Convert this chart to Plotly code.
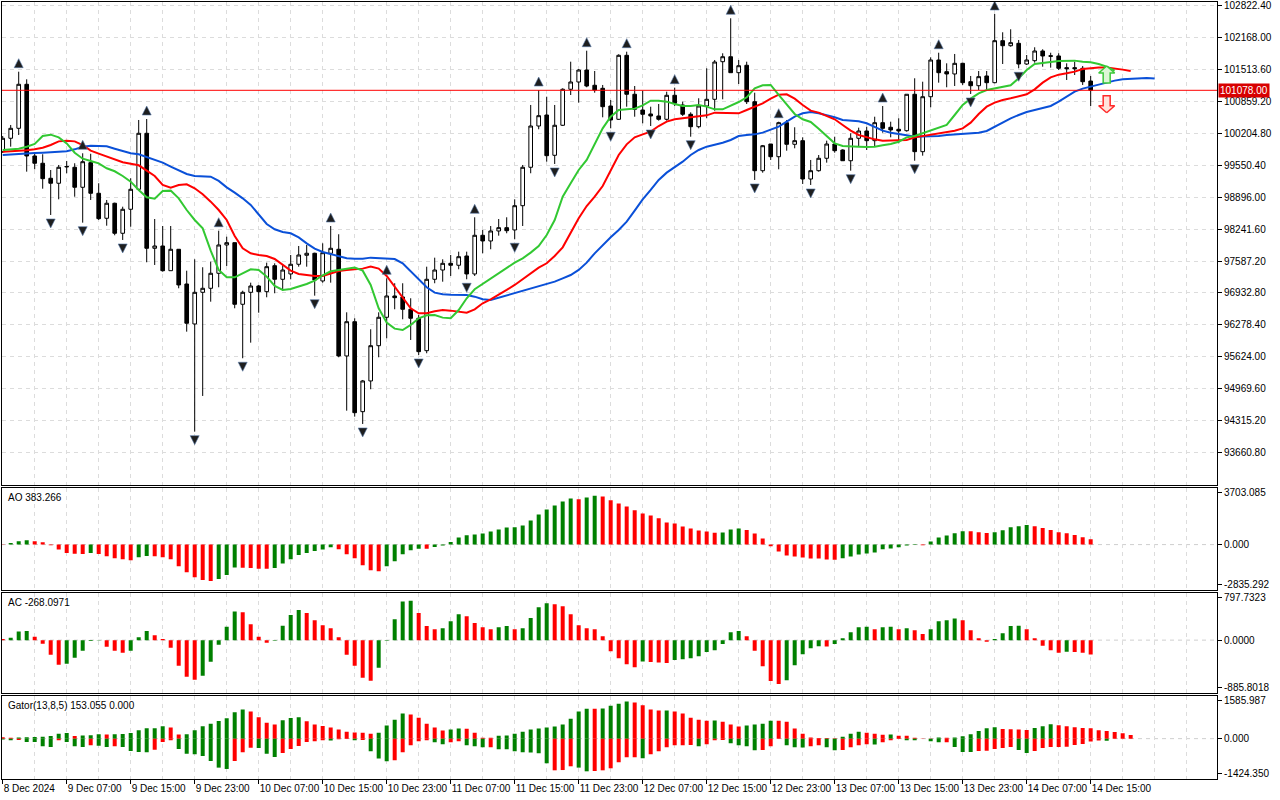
import plotly.graph_objects as go

# ---------------- data (hourly bars, index 0 = first visible bar) ----------------
opens = [99823, 100097, 100301, 101201, 99735, 99586, 99279, 99177, 99510, 99504,
         99095, 99598, 98972, 98461, 98768, 98154, 98645, 99054, 100199, 97847,
         97894, 97389, 97827, 97117, 96299, 96947, 97029, 97336, 97915, 97962,
         96702, 96947, 97076, 96960, 97491, 97213, 97322, 97520, 97704, 97745,
         97179, 97745, 97827, 95645, 96346, 94506, 95134, 95855, 96436, 96872,
         96851, 96600, 96416, 95753, 97213, 97403, 97540, 97500, 97690, 97322,
         98113, 97997, 98201, 98269, 98222, 98718, 99504, 100348, 100573, 99749,
         100363, 101099, 101248, 101493, 101181, 101119, 100757, 100485, 101794, 100997,
         100675, 100594, 100553, 100485, 100976, 100778, 100588, 100334, 100757, 100894,
         101663, 101765, 101438, 101590, 100845, 99434, 99980, 99720, 100416, 99974,
         100048, 99264, 99434, 99688, 99980, 99857, 99638, 100097, 100246, 100048,
         100416, 100322, 100281, 100252, 100997, 99823, 100947, 101698, 101459, 101412,
         101630, 101254, 101172, 101371, 101234, 102093, 101990, 102039, 101616, 101684,
         101882, 101785, 101780, 101541, 101541, 101528, 101268]
highs = [100144, 100369, 101459, 101303, 99776, 99770, 99448, 99551, 99633, 99586,
         99790, 99780, 99177, 98835, 98780, 98698, 99279, 100471, 100491, 98446,
         98303, 98303, 97827, 97389, 97622, 97459, 97573, 98207, 98084, 97962,
         96980, 97144, 97097, 97553, 97540, 97506, 97710, 97894, 97915, 97757,
         97949, 98303, 98134, 96538, 96416, 95154, 96191, 96538, 97234, 97132,
         97132, 96825, 96483, 97471, 97655, 97622, 97710, 97778, 97778, 98481,
         98222, 98303, 98446, 98481, 98849, 99551, 100778, 101084, 100947, 100778,
         101119, 101663, 101514, 101888, 101473, 101187, 100880, 101815, 101868, 101166,
         101070, 100743, 100798, 101050, 101132, 100845, 100628, 100915, 101528, 101698,
         101835, 102551, 101698, 101663, 101029, 99960, 99980, 100436, 100471, 100322,
         100117, 99653, 99755, 100048, 100129, 99872, 100199, 100314, 100334, 100538,
         100757, 100436, 100506, 100997, 101324, 101254, 101753, 101847, 101630, 101821,
         101643, 101371, 101473, 101473, 102639, 102265, 102326, 102107, 101800, 101958,
         101917, 101847, 101835, 101630, 101663, 101575, 101371]
lows = [99796, 99925, 100164, 99414, 99463, 99066, 98528, 98849, 99381, 98902,
        98371, 98835, 98426, 98309, 98113, 98017, 98289, 99039, 97561, 97506,
        97369, 97389, 97029, 96142, 94097, 94827, 96755, 97050, 97485, 96620,
        95598, 95917, 96530, 96845, 96927, 96980, 97213, 97471, 97471, 96878,
        97144, 97144, 95618, 94526, 94404, 94254, 94964, 95618, 96007, 96600,
        96395, 95972, 95665, 95700, 97132, 97164, 97281, 97418, 97213, 97281,
        97745, 97827, 98105, 98154, 98031, 98303, 99381, 100281, 99618, 99571,
        100348, 100982, 100825, 101140, 101029, 100526, 100301, 100471, 100743, 100538,
        100403, 100348, 100457, 100457, 100757, 100553, 100129, 100301, 100506, 100661,
        100894, 101438, 101207, 100798, 99244, 99393, 99653, 99463, 99843, 99892,
        99162, 99142, 99414, 99598, 99802, 99633, 99434, 99925, 99857, 99925,
        100211, 100117, 99994, 100232, 99638, 99741, 100731, 101234, 101140, 101166,
        101187, 101003, 101084, 101070, 101222, 101616, 101970, 101528, 101596, 101643,
        101561, 101541, 101493, 101289, 101391, 101187, 100757]
closes = [100097, 100301, 101201, 99735, 99586, 99271, 99177, 99504, 99520, 99095,
          99618, 98972, 98453, 98768, 98154, 98645, 99054, 100199, 97847, 97894,
          97389, 97827, 97097, 96314, 96947, 97029, 97336, 97915, 97962, 96702,
          96947, 97076, 96960, 97471, 97213, 97403, 97520, 97710, 97745, 97199,
          97757, 97847, 95645, 96346, 94485, 95134, 95855, 96436, 96872, 96837,
          96600, 96416, 95733, 97213, 97403, 97540, 97500, 97675, 97322, 98113,
          97997, 98201, 98269, 98207, 98718, 99504, 100348, 100559, 99741, 100363,
          101099, 101248, 101493, 101166, 101084, 100743, 100471, 101794, 100997, 100690,
          100588, 100553, 100485, 100976, 100813, 100588, 100334, 100757, 100894, 101657,
          101765, 101438, 101581, 100845, 99434, 99945, 99720, 100416, 99974, 100048,
          99264, 99434, 99688, 99980, 99843, 99638, 100097, 100246, 100048, 100416,
          100301, 100267, 100246, 100997, 99823, 100947, 101698, 101438, 101412, 101630,
          101234, 101172, 101357, 101234, 102093, 101990, 102052, 101616, 101698, 101882,
          101780, 101775, 101528, 101520, 101520, 101254, 101078]

# Alligator (jaw shifted 8, teeth 5, lips 3 bars forward)
jaw = [99756, 99769, 99783, 99790, 99796, 99803, 99810, 99817, 99830, 99871,
       99925, 99946, 99946, 99932, 99884, 99843, 99790, 99769, 99707, 99653,
       99599, 99517, 99435, 99367, 99326, 99312, 99312, 99224, 99094, 98985,
       98869, 98733, 98528, 98344, 98235, 98180, 98153, 98071, 97948, 97840,
       97772, 97724, 97690, 97642, 97635, 97635, 97656, 97649, 97635, 97628,
       97540, 97370, 97213, 97049, 96940, 96906, 96899, 96899, 96892, 96858,
       96804, 96790, 96838, 96886, 96926, 96967, 97022, 97077, 97118, 97165,
       97233, 97301, 97404, 97554, 97744, 97915, 98071, 98221, 98392, 98617,
       98849, 99040, 99244, 99394, 99503, 99619, 99756, 99857, 99925, 99959,
       100007, 100062, 100143, 100164, 100177, 100212, 100266, 100334, 100437, 100539,
       100607, 100635, 100607, 100573, 100526, 100471, 100457, 100444, 100403, 100334,
       100253, 100212, 100177, 100157, 100130, 100130, 100130, 100143, 100164, 100177,
       100191, 100198, 100212, 100246, 100334, 100416, 100505, 100573, 100635, 100675,
       100710, 100757, 100846, 100948, 101051, 101112, 101153, 101201, 101242, 101276,
       101303, 101317, 101330, 101330, 101317]
teeth = [99823, 99830, 99837, 99850, 99871, 99905, 99959, 100034, 100048, 100034,
         99959, 99843, 99782, 99721, 99667, 99606, 99578, 99544, 99435, 99326,
         99142, 99088, 99142, 99156, 99074, 98951, 98801, 98630, 98426, 98099,
         97846, 97744, 97710, 97690, 97628, 97506, 97390, 97322, 97295, 97281,
         97281, 97336, 97384, 97404, 97417, 97431, 97472, 97431, 97281, 97063,
         96824, 96620, 96517, 96517, 96558, 96585, 96572, 96545, 96531, 96599,
         96722, 96804, 96892, 96995, 97097, 97213, 97336, 97452, 97540, 97690,
         97867, 98153, 98460, 98712, 98903, 99121, 99449, 99755, 99973, 100116,
         100177, 100232, 100348, 100437, 100485, 100505, 100519, 100539, 100566, 100621,
         100621, 100607, 100607, 100675, 100744, 100812, 100907, 100989, 100996, 100907,
         100778, 100662, 100621, 100553, 100485, 100369, 100253, 100164, 100116, 100075,
         100048, 100048, 100048, 100062, 100116, 100143, 100157, 100184, 100225, 100253,
         100300, 100416, 100594, 100744, 100826, 100880, 100914, 100948, 100996, 101098,
         101235, 101344, 101398, 101426, 101460, 101514, 101535, 101542, 101542, 101528,
         101501, 101473]
lips = [99857, 99864, 99884, 99925, 99980, 100143, 100171, 100116, 99993, 99802,
        99679, 99632, 99585, 99483, 99422, 99326, 99210, 99040, 98890, 98862,
        99019, 99026, 98869, 98630, 98426, 98255, 97798, 97404, 97254, 97254,
        97336, 97417, 97404, 97268, 97077, 96995, 97015, 97063, 97118, 97186,
        97295, 97377, 97404, 97431, 97452, 97390, 97097, 96620, 96326, 96204,
        96176, 96279, 96415, 96476, 96483, 96429, 96415, 96585, 96824, 97009,
        97118, 97213, 97322, 97438, 97554, 97642, 97758, 97894, 98119, 98426,
        98903, 99176, 99449, 99653, 99993, 100300, 100539, 100675, 100689, 100703,
        100771, 100866, 100866, 100846, 100798, 100757, 100757, 100778, 100744, 100689,
        100689, 100757, 100839, 100935, 101119, 101180, 101187, 100983, 100778, 100594,
        100485, 100430, 100294, 100143, 99993, 99939, 99925, 99925, 99918, 99925,
        99952, 99980, 100027, 100116, 100143, 100198, 100266, 100321, 100369, 100573,
        100778, 100907, 101016, 101085, 101112, 101139, 101180, 101323, 101494, 101617,
        101644, 101658, 101678, 101685, 101685, 101664, 101651, 101617, 101562, 101480]

# Fractals (bar indices)
fractal_up_bars = [2, 10, 18, 27, 41, 48, 59, 67, 73, 78, 84, 91, 97, 110, 117, 124]
fractal_down_bars = [6, 10, 15, 24, 30, 39, 45, 52, 58, 64, 69, 76, 81, 86, 94, 101,
                     106, 114, 121, 127]

# Signal arrows (bar index and the price at each arrow's tip)
signal_bar = [138]
signal_up_tip = [101575]
signal_down_tip = [100620]

# Awesome Oscillator
ao = [20, 119, 238, 309, 238, 166, -50, -357, -594, -650,
      -680, -594, -666, -832, -975, -1046, -1117, -903, -820, -835,
      -903, -1046, -1545, -1973, -2329, -2520, -2591, -2448, -2163, -1640,
      -1650, -1680, -1720, -1730, -1664, -1355, -1046, -737, -594, -452,
      -350, -190, -333, -689, -975, -1474, -1830, -1902, -1545, -1189,
      -689, -404, -290, -300, -166, -71, 190, 499, 666, 713,
      784, 927, 1070, 1212, 1236, 1355, 1711, 2139, 2496, 2781,
      3066, 3280, 3233, 3352, 3494, 3423, 3161, 2924, 2710, 2448,
      2211, 2068, 1878, 1569, 1498, 1284, 1141, 998, 927, 840,
      860, 1070, 1141, 1046, 784, 428, -119, -499, -784, -856,
      -927, -990, -1000, -1065, -1075, -975, -856, -713, -642, -570,
      -333, -285, -190, -71, -30, -40, 214, 499, 642, 800,
      955, 945, 880, 832, 880, 1022, 1236, 1307, 1402, 1307,
      1189, 1046, 880, 808, 689, 523, 383.266]
ao_colors = ("rgggrrrrrr" "rgrrrrrggr" "rrrrrrrggg" "rrrrgggggg" "ggrrrrrrgg"
             "gggrgggggg" "gggggggggg" "ggrggrrrrr" "rrrrrrrrrr" "gggrrrrrrr"
             "rrrrrggggg" "gggggrgggg" "grrrgggggr" "rrrrrrr")

# Accelerator Oscillator
ac = [20, 43, 160, 170, 62, -68, -273, -459, -441, -329,
      -199, -15, -5, -124, -199, -236, -199, 56, 168, 93,
      19, -143, -478, -683, -739, -664, -403, -87, 248, 534,
      521, 298, 62, -50, -12, 267, 466, 559, 503, 372,
      279, 223, 56, -273, -478, -701, -757, -515, -12, 391,
      720, 735, 503, 261, 205, 223, 354, 484, 447, 317,
      242, 205, 242, 261, 205, 223, 410, 614, 689, 670,
      633, 484, 279, 223, 205, 74, -205, -335, -447, -503,
      -400, -405, -415, -428, -372, -354, -335, -298, -223, -186,
      -74, 149, 168, 74, -199, -484, -763, -819, -745, -466,
      -261, -149, -112, -118, -74, 37, 149, 242, 250, 205,
      242, 248, 205, 223, 186, 112, 205, 354, 372, 405,
      372, 186, 37, -31, 19, 130, 261, 268, 205, 37,
      -106, -186, -236, -217, -220, -236, -268.0971]
ac_colors = ("rgggrrrrgg" "gggrrrgggr" "rrrrrggggg" "rrrrggggrr" "rrrrrrrggg"
             "ggrrrgggrr" "rrggrggggr" "rrrrrrrrrr" "grrrgggggg" "gggrrrrrgg"
             "gggrgggggr" "ggrgrrgggg" "rrrrggggrr" "rrrgrrr")

# Gator oscillator
gator_up = [60, 35, 45, 55, 68, 75, 110, 205, 233, 110,
            130, 140, 178, 170, 178, 185, 233, 342, 424, 430,
            507, 452, 170, 178, 342, 507, 616, 726, 835, 1082,
            1191, 1109, 876, 657, 575, 753, 849, 876, 712, 575,
            520, 452, 370, 287, 250, 246, 205, 246, 534, 780,
            1027, 986, 862, 616, 452, 329, 370, 411, 405, 246,
            41, 35, 123, 125, 205, 287, 370, 411, 452, 493,
            575, 821, 1109, 1232, 1225, 1240, 1355, 1437, 1520, 1479,
            1369, 1191, 1150, 1155, 1109, 1027, 862, 780, 739, 745,
            698, 575, 493, 534, 575, 616, 739, 735, 698, 411,
            205, 45, 30, 25, 20, 82, 205, 287, 246, 205,
            164, 170, 123, 120, 41, 10, 5, 50, 41, 45,
            96, 178, 315, 424, 465, 397, 383, 375, 356, 438,
            507, 589, 548, 507, 465, 438, 430, 342, 315, 274,
            219, 153.055]
gator_up_colors = ("rrgggggggr" "gggrgggggg" "grrggggggg" "grrrrgggrr" "rrrrrrrggg"
                   "grrrrrggrr" "rrgggggggg" "ggggrggggr" "rrrgrrrrrg" "rrrggggrrr"
                   "rrrrrgggrr" "rgrrrrrgrg" "gggggrrrrg" "ggrrrrrrrr" "rr")
gator_down = [-40, -68, -60, -137, -140, -315, -342, -68, -137, -315,
              -342, -274, -290, -342, -315, -342, -507, -548, -560, -452,
              -137, -68, -424, -616, -643, -712, -917, -1191, -1246, -917,
              -561, -370, -383, -616, -753, -589, -424, -301, -137, -110,
              -68, -75, -30, -20, -68, -60, -520, -821, -931, -890,
              -561, -274, -110, -68, -151, -233, -151, -110, -274, -315,
              -356, -350, -438, -440, -520, -561, -565, -602, -1013, -1301,
              -1290, -1136, -1191, -1342, -1330, -1301, -1218, -972, -767, -760,
              -808, -643, -520, -356, -274, -270, -265, -315, -233, -68,
              -60, -192, -274, -315, -479, -470, -315, -10, -274, -356,
              -360, -315, -274, -356, -479, -470, -356, -274, -233, -240,
              -151, -68, -20, -68, -70, -5, -110, -151, -145, -342,
              -548, -550, -507, -500, -424, -383, -342, -465, -589, -507,
              -383, -342, -340, -335, -260, -219, -123, -82, -85, -10,
              0, 0]
gator_down_colors = ("ggrggggrgg" "grggrggggr" "rrgggggggr" "rrgggrrrrr" "rgrrgrgggr"
                     "rrrrggrrgg" "grgggggggr" "rrggrrrrrr" "grrrrrrgrr" "rggggrrrgg"
                     "grrggrrrrg" "rrrggrggrg" "ggrrrrrggr" "rrrrrrrrgr" "rr")

# Axis labels
time_label_bars = list(range(0, 137, 8))
time_labels = ["8 Dec 2024", "9 Dec 07:00", "9 Dec 15:00", "9 Dec 23:00", "10 Dec 07:00",
               "10 Dec 15:00", "10 Dec 23:00", "11 Dec 07:00", "11 Dec 15:00",
               "11 Dec 23:00", "12 Dec 07:00", "12 Dec 15:00", "12 Dec 23:00",
               "13 Dec 07:00", "13 Dec 15:00", "13 Dec 23:00", "14 Dec 07:00",
               "14 Dec 15:00"]
price_ticks = [102822.40, 102168.00, 101513.60, 100859.20, 100204.80, 99550.40, 98896.00,
               98241.60, 97587.20, 96932.80, 96278.40, 95624.00, 94969.60, 94315.20, 93660.80]
ao_ticks = [-2835.292, 0.0, 3703.085]
ac_ticks = [-885.8018, 0.0, 797.7323]
gator_ticks = [-1424.350, 0.0, 1585.987]

# ---------------- figure ----------------
W, H = 1280, 800
M_L, M_R, M_T, M_B = 2, 63, 2, 21
PH = H - M_T - M_B
PW = W - M_L - M_R
BOT = H - M_B


def dom(top_px, bot_px):
    return [(BOT - bot_px) / PH, (BOT - top_px) / PH]


MAIN_DOM = dom(2, 485)
AO_DOM = dom(487.5, 589.5)
AC_DOM = dom(592.5, 692.5)
GT_DOM = dom(695.5, 779)
MAIN_RANGE = [93006, 102884]
X_RANGE = [-0.0875, 151.79]

GREEN, RED = "#008000", "#ff0000"
cmap = {"g": GREEN, "r": RED}
FONT = "Liberation Sans"
FS = 10
GRID = "#dcdcdc"
DASH = "4px,4px"

N = len(closes)
xs = list(range(N))
px_price = (MAIN_RANGE[1] - MAIN_RANGE[0]) / ((MAIN_DOM[1] - MAIN_DOM[0]) * PH)
px_bar = (X_RANGE[1] - X_RANGE[0]) / PW

fig = go.Figure()

fig.add_trace(go.Candlestick(
    x=xs, open=opens, high=highs, low=lows, close=closes,
    increasing=dict(line=dict(color="black", width=1), fillcolor="white"),
    decreasing=dict(line=dict(color="black", width=1), fillcolor="black"),
    whiskerwidth=0, xaxis="x", yaxis="y", hoverinfo="skip", showlegend=False))

for series, col in ((jaw, "#0a50d8"), (teeth, "#ff0000"), (lips, "#32c832")):
    fig.add_trace(go.Scatter(x=list(range(len(series))), y=series, mode="lines",
                             line=dict(color=col, width=2), xaxis="x", yaxis="y",
                             hoverinfo="skip", showlegend=False))

# fractal arrows: tip sits ~13 px beyond the bar extreme
fig.add_trace(go.Scatter(
    x=fractal_up_bars, y=[highs[i] + 13 * px_price for i in fractal_up_bars],
    mode="markers", marker=dict(symbol="arrow-up", size=9, color="#1e1e1e",
                                line=dict(color="#5878a8", width=0.6)),
    xaxis="x", yaxis="y", hoverinfo="skip", showlegend=False))
fig.add_trace(go.Scatter(
    x=fractal_down_bars, y=[lows[i] - 13 * px_price for i in fractal_down_bars],
    mode="markers", marker=dict(symbol="arrow-down", size=9, color="#1e1e1e",
                                line=dict(color="#5878a8", width=0.6)),
    xaxis="x", yaxis="y", hoverinfo="skip", showlegend=False))

# hollow block arrows (outline in pixel units, anchored at the tip)
ARROW_PX = [(0, 0), (8, 7), (3.5, 7), (3.5, 17), (-3.5, 17), (-3.5, 7), (-8, 7), (0, 0)]
for xb, tu, td in zip(signal_bar, signal_up_tip, signal_down_tip):
    fig.add_trace(go.Scatter(
        x=[xb + dx * px_bar for dx, dy in ARROW_PX],
        y=[tu - dy * px_price for dx, dy in ARROW_PX],
        mode="lines", fill="toself", fillcolor="#dcf6d6",
        line=dict(color="#3cc83c", width=1.5), xaxis="x", yaxis="y",
        hoverinfo="skip", showlegend=False))
    fig.add_trace(go.Scatter(
        x=[xb + dx * px_bar for dx, dy in ARROW_PX],
        y=[td + dy * px_price for dx, dy in ARROW_PX],
        mode="lines", fill="toself", fillcolor="#ffe4dc",
        line=dict(color="#ff2a2a", width=1.5), xaxis="x", yaxis="y",
        hoverinfo="skip", showlegend=False))

# oscillators
fig.add_trace(go.Bar(x=xs, y=ao, marker=dict(color=[cmap[c] for c in ao_colors], line_width=0),
                     width=0.5, xaxis="x2", yaxis="y2", hoverinfo="skip", showlegend=False))
fig.add_trace(go.Bar(x=xs, y=ac, marker=dict(color=[cmap[c] for c in ac_colors], line_width=0),
                     width=0.5, xaxis="x3", yaxis="y3", hoverinfo="skip", showlegend=False))
fig.add_trace(go.Bar(x=list(range(len(gator_up))), y=gator_up,
                     marker=dict(color=[cmap[c] for c in gator_up_colors], line_width=0),
                     width=0.5, xaxis="x4", yaxis="y4", hoverinfo="skip", showlegend=False))
fig.add_trace(go.Bar(x=list(range(len(gator_down))), y=gator_down,
                     marker=dict(color=[cmap[c] for c in gator_down_colors], line_width=0),
                     width=0.5, xaxis="x4", yaxis="y4", hoverinfo="skip", showlegend=False))

grid_bars = list(range(0, 152, 4))


def xaxis(anchor, bottom=False):
    d = dict(domain=[0, 1], anchor=anchor, range=X_RANGE, showgrid=False, zeroline=False,
             showline=True, mirror=True, linecolor="black", linewidth=1, automargin=False,
             minor=dict(tickmode="array", tickvals=grid_bars, showgrid=True,
                        gridcolor=GRID, griddash=DASH, gridwidth=1, ticks=""),
             tickmode="array", tickvals=time_label_bars, ticktext=time_labels,
             fixedrange=True)
    if bottom:
        d.update(showticklabels=True, ticks="outside", ticklen=4, tickcolor="black",
                 tickangle=0, ticklabelposition="outside right", ticklabeloverflow="allow",
                 tickfont=dict(family=FONT, size=FS, color="black"))
    else:
        d.update(showticklabels=False, ticks="", matches="x4")
    return d


def sub_yaxis(anchor, domain, rng, tickvals, fmt):
    return dict(domain=domain, anchor=anchor, range=rng, side="right", automargin=False,
                tickmode="array", tickvals=tickvals, ticktext=[fmt.format(v) for v in tickvals],
                showgrid=False, zeroline=False, showline=True, mirror=True,
                linecolor="black", linewidth=1, ticks="outside", ticklen=4,
                tickcolor="black", ticklabeloverflow="allow",
                tickfont=dict(family=FONT, size=FS, color="black"), fixedrange=True)


fig.update_layout(
    width=W, height=H, margin=dict(l=M_L, r=M_R, t=M_T, b=M_B, autoexpand=False),
    paper_bgcolor="white", plot_bgcolor="white", showlegend=False,
    barmode="overlay", boxgap=0.35, hovermode=False,
    font=dict(family=FONT, size=FS, color="black"),
    xaxis=dict(xaxis("y"), rangeslider=dict(visible=False)),
    xaxis2=xaxis("y2"), xaxis3=xaxis("y3"), xaxis4=xaxis("y4", bottom=True),
    yaxis=dict(domain=MAIN_DOM, anchor="x", range=MAIN_RANGE, side="right", automargin=False,
               tickmode="array", tickvals=price_ticks,
               ticktext=["{:.2f}".format(v) for v in price_ticks],
               showgrid=True, gridcolor=GRID, griddash=DASH, gridwidth=1,
               zeroline=False, showline=True, mirror=True, linecolor="black", linewidth=1,
               ticks="outside", ticklen=4, tickcolor="black", ticklabeloverflow="allow",
               tickfont=dict(family=FONT, size=FS, color="black"), fixedrange=True),
    yaxis2=sub_yaxis("x2", AO_DOM, [-3206, 4074], ao_ticks, "{:.3f}"),
    yaxis3=sub_yaxis("x3", AC_DOM, [-975, 887], ac_ticks, "{:.4f}"),
    yaxis4=sub_yaxis("x4", GT_DOM, [-1658, 1771], gator_ticks, "{:.3f}"),
)

# dashed zero lines in oscillator panels
for xr, yr in (("x2", "y2"), ("x3", "y3"), ("x4", "y4")):
    fig.add_shape(type="line", xref=xr + " domain", x0=0, x1=1, yref=yr, y0=0, y1=0,
                  line=dict(color="#cfcfcf", width=1, dash=DASH), layer="below")

# bid line
fig.add_shape(type="line", xref="x domain", x0=0, x1=1, yref="y", y0=closes[-1], y1=closes[-1],
              line=dict(color="#ff0000", width=1))
fig.add_annotation(xref="paper", x=1, xanchor="left", xshift=1, yref="y", y=closes[-1],
                   text="{:.2f}".format(closes[-1]), showarrow=False, bgcolor="#d80000",
                   font=dict(family=FONT, size=FS, color="white"), borderpad=1)

# indicator captions
for dmn, txt in ((AO_DOM, "AO {:.3f}".format(ao[-1])),
                 (AC_DOM, "AC {:.4f}".format(ac[-1])),
                 (GT_DOM, "Gator(13,8,5) {:.3f} {:.3f}".format(gator_up[-1], abs(gator_down[-1])))):
    fig.add_annotation(xref="paper", x=(6 - M_L) / PW, xanchor="left",
                       yref="paper", y=dmn[1], yanchor="top", yshift=-2, text=txt,
                       showarrow=False, font=dict(family=FONT, size=FS, color="black"))

fig.write_html("out.html", config={"displayModeBar": False, "staticPlot": True},
               post_script="document.body.style.margin='0px';"
                           "document.body.style.overflow='hidden';")
